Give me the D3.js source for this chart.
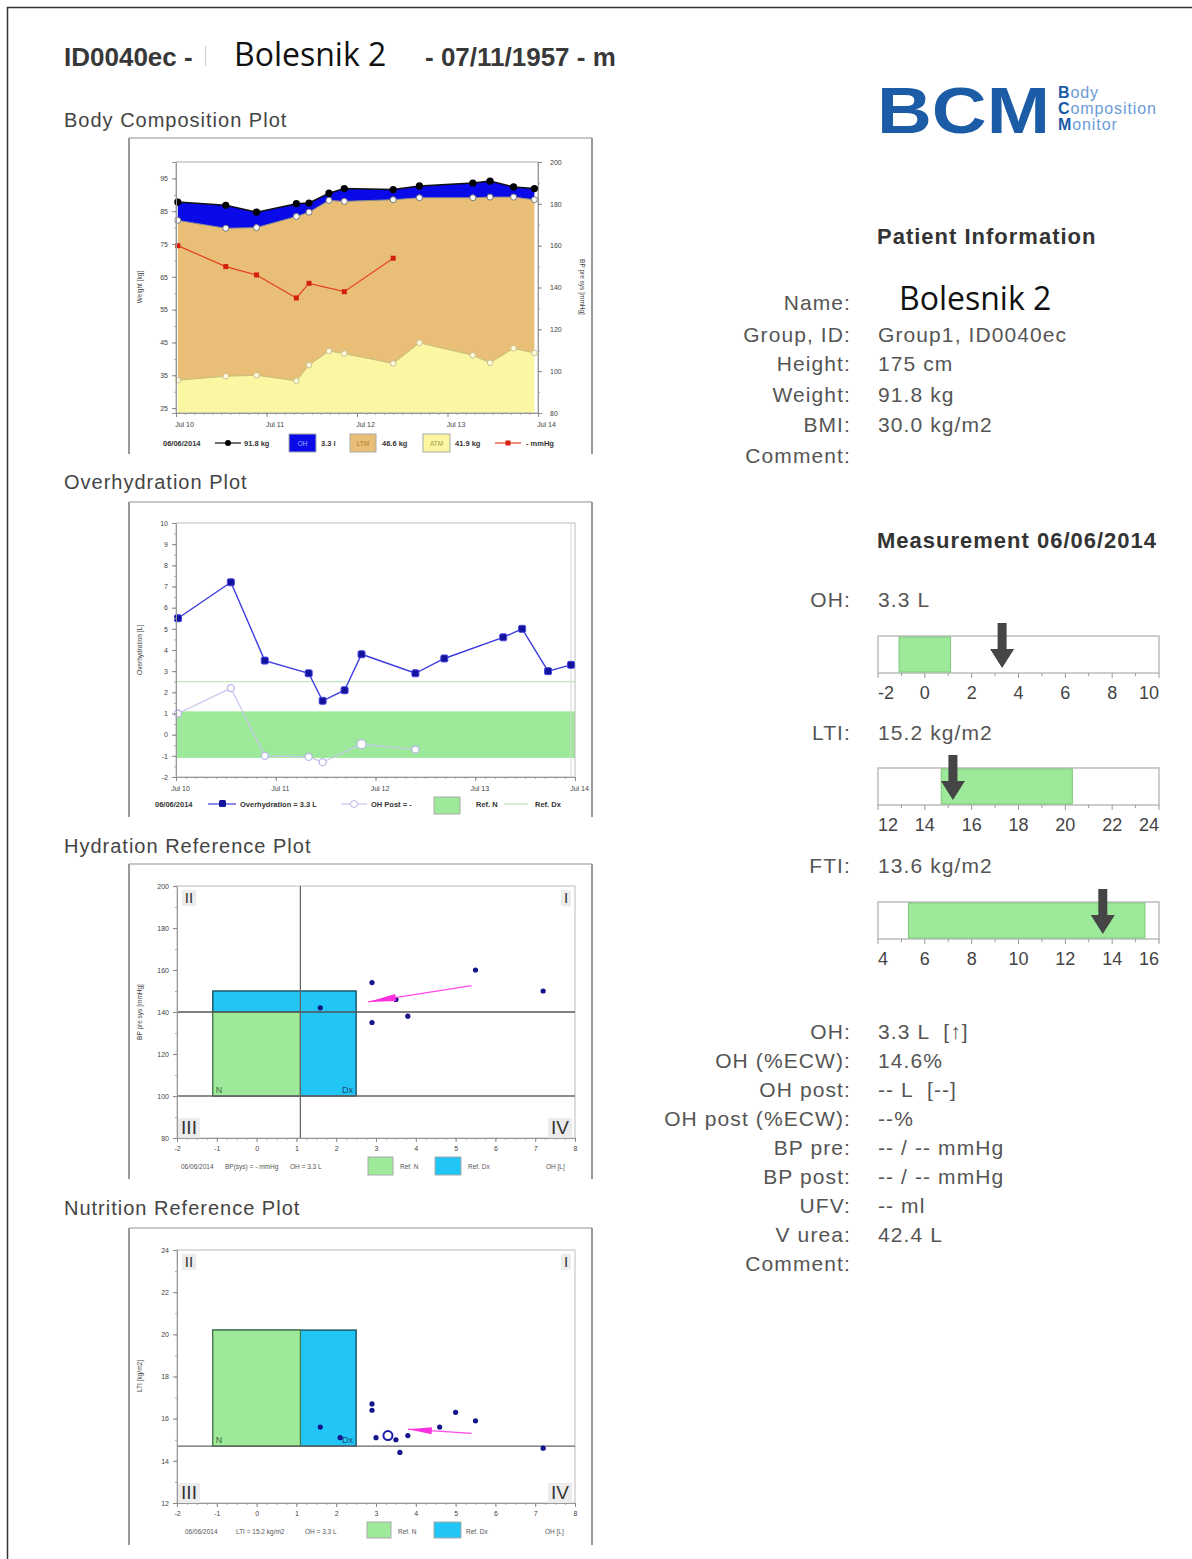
<!DOCTYPE html>
<html>
<head>
<meta charset="utf-8">
<script src="https://cdn.jsdelivr.net/npm/d3@7"></script>
<style>
  body { margin: 0; background: #fff; }
  svg { display: block; font-family: "Liberation Sans", Arial, sans-serif; }
  text { white-space: pre; }
</style>
</head>
<body>
<svg id="page" width="1192" height="1559"></svg>
<script>
// measurement days (x axis, day of July)
const dates = [10.02, 10.55, 10.89, 11.33, 11.47, 11.69, 11.86, 12.40, 12.69, 13.28, 13.47, 13.73, 13.96];
const weightKg = [87.8, 86.8, 84.7, 87.3, 87.5, 90.5, 91.9, 91.6, 92.7, 93.6, 94.2, 92.4, 91.9];
const ltmKg = [48.7, 45.1, 45.0, 50.1, 46.6, 45.9, 46.4, 49.9, 44.2, 48.0, 50.5, 46.1, 46.7];
const atmKg = [33.5, 34.7, 35.0, 33.3, 38.1, 42.4, 41.6, 38.6, 44.9, 41.1, 38.8, 43.2, 41.8];
const bpSys = [160, 150, 146, 135, 142, null, 138, 154, null, null, null, null, null];
const ohL = [5.5, 7.2, 3.5, 2.9, 1.6, 2.1, 3.8, 2.9, 3.6, 4.6, 5.0, 3.0, 3.3];
const ohPostL = [1.0, 2.2, -1.0, -1.05, -1.3, null, -0.45, -0.7, null, null, null, null, null];
const ltiKgM2 = [15.9, 14.6, 15.0, 16.7, 15.6, 15.1, 15.2, 16.4, 14.4, 15.6, 16.3, 15.1, 15.2];

// reference ranges
const ohRefN = [-1.1, 1.1];
const ohRefDx = 2.5;
const hrpRefN = [[-1.1, 1.1], [100, 140]];
const hrpRefDx = [[-1.1, 2.5], [100, 150]];
const nrpRefN = [[-1.1, 1.1], [14.7, 20.2]];
const nrpRefDx = [[-1.1, 2.5], [14.7, 20.2]];
const hrpTrend = [[5.4, 152.6], [2.8, 144.8]];
const nrpTrend = [[5.4, 15.3], [3.8, 15.5]];

// right side bars
const barTicksOH = [-2, 0, 2, 4, 6, 8, 10];
const barTicksLTI = [12, 14, 16, 18, 20, 22, 24];
const barTicksFTI = [4, 6, 8, 10, 12, 14, 16];
const barRefOH = [-1.1, 1.1], barRefLTI = [14.7, 20.3], barRefFTI = [5.3, 15.4];
const barValOH = 3.3, barValLTI = 15.2, barValFTI = 13.6;

const patientLabels = ['Name:', 'Group, ID:', 'Height:', 'Weight:', 'BMI:', 'Comment:'];
const patientValues = ['', 'Group1, ID0040ec', '175 cm', '91.8 kg', '30.0 kg/m2', ''];
const measLabels = ['OH:', 'OH (%ECW):', 'OH post:', 'OH post (%ECW):', 'BP pre:', 'BP post:', 'UFV:', 'V urea:', 'Comment:'];
const measValues = ['3.3 L  [\u2191]', '14.6%', '-- L  [--]', '--%', '-- / -- mmHg', '-- / -- mmHg', '-- ml', '42.4 L', ''];

const svg = d3.select('#page');
const rows = dates.map((d, i) => ({
  d, w: weightKg[i], atm: atmKg[i], lean: atmKg[i] + ltmKg[i],
  bp: bpSys[i], oh: ohL[i], post: ohPostL[i], lti: ltiKgM2[i]
}));
const plain = d => String(d);

// page border (top + left)
svg.append('path').attr('d', 'M7.5,1559 V7.5 H1192')
  .attr('fill', 'none').attr('stroke', '#333').attr('stroke-width', 1.5);

// ---------- header ----------
const hdr = svg.append('g').attr('fill', '#383838');
hdr.append('text').attr('x', 64).attr('y', 66).attr('font-size', 26).attr('font-weight', 'bold').text('ID0040ec -');
hdr.append('line').attr('x1', 205.5).attr('x2', 205.5).attr('y1', 46).attr('y2', 66).attr('stroke', '#ccc');
hdr.append('text').attr('x', 234).attr('y', 66).attr('font-family', '"Open Sans"').attr('font-size', 32)
  .attr('fill', '#111').text('Bolesnik 2');
hdr.append('text').attr('x', 425).attr('y', 66).attr('font-size', 26).attr('font-weight', 'bold').text('- 07/11/1957 - m');

const titles = [['Body Composition Plot', 127], ['Overhydration Plot', 489], ['Hydration Reference Plot', 853], ['Nutrition Reference Plot', 1215]];
svg.selectAll('text.ptitle').data(titles).join('text').attr('class', 'ptitle')
  .attr('x', 64).attr('y', d => d[1]).attr('font-size', 20).attr('letter-spacing', 1)
  .attr('fill', '#444').text(d => d[0]);

// ---------- helpers ----------
function frame(y0, y1) {
  const g = svg.append('g');
  g.append('line').attr('x1', 129).attr('x2', 592).attr('y1', y0).attr('y2', y0).attr('stroke', '#c8c8c8').attr('stroke-width', 2);
  g.append('line').attr('x1', 129).attr('x2', 129).attr('y1', y0).attr('y2', y1).attr('stroke', '#9a9a9a').attr('stroke-width', 2);
  g.append('line').attr('x1', 592).attr('x2', 592).attr('y1', y0).attr('y2', y1).attr('stroke', '#9a9a9a').attr('stroke-width', 2);
}

function addAxis(orient, scale, tx, ty, majors, minors, fmt, pad, dx) {
  const g = svg.append('g').attr('transform', `translate(${tx},${ty})`);
  g.append('g').call(orient(scale).tickValues(minors).tickSize(2).tickFormat(''))
    .call(a => a.select('.domain').remove())
    .call(a => a.selectAll('line').attr('stroke', '#aaa'));
  g.append('g').call(orient(scale).tickValues(majors).tickSize(4).tickPadding(pad).tickFormat(fmt))
    .call(a => a.select('.domain').attr('stroke', '#999'))
    .call(a => a.selectAll('.tick line').attr('stroke', '#888'))
    .call(a => a.selectAll('.tick text').attr('font-size', 7).attr('fill', '#444')
      .attr('font-family', '"Liberation Sans", Arial').attr('dx', dx || 0));
  return g;
}

function axisTitle(x, y, t, rot) {
  svg.append('text').attr('transform', `translate(${x},${y}) rotate(${rot})`)
    .attr('text-anchor', 'middle').attr('font-size', 6.5).attr('fill', '#444').text(t);
}

function legText(x, y, t, bold) {
  svg.append('text').attr('x', x).attr('y', y).attr('font-size', bold ? 7.5 : 6.5)
    .attr('font-weight', bold ? 'bold' : 'normal').attr('fill', bold ? '#333' : '#555').text(t);
}
function legLine(x1, x2, y, color, w) {
  svg.append('line').attr('x1', x1).attr('x2', x2).attr('y1', y).attr('y2', y)
    .attr('stroke', color).attr('stroke-width', w || 1.2);
}
function legBox(x, y, w, h, fill, label, lc) {
  svg.append('rect').attr('x', x).attr('y', y).attr('width', w).attr('height', h)
    .attr('fill', fill).attr('stroke', '#aaa').attr('stroke-width', 1);
  if (label) svg.append('text').attr('x', x + w / 2).attr('y', y + h / 2 + 2.5).attr('text-anchor', 'middle')
    .attr('font-size', 6.5).attr('fill', lc).text(label);
}

const seq = (a, b, s) => d3.range(Math.round((b - a) / s) + 1).map(i => +(a + i * s).toFixed(4));

// ---------- Body Composition Plot ----------
frame(138, 454);
const bcX = d3.scaleLinear().domain([10, 14]).range([176, 538]);
const bcY = d3.scaleLinear().domain([23.5, 100]).range([413, 162]);
const bcR = d3.scaleLinear().domain([80, 200]).range([413, 162]);
const gBc = svg.append('g');
gBc.append('path').datum(rows)
  .attr('d', d3.area().x(r => bcX(r.d)).y0(bcY(23.5)).y1(r => bcY(r.atm)))
  .attr('fill', '#fbf6a2');
gBc.append('path').datum(rows)
  .attr('d', d3.area().x(r => bcX(r.d)).y0(r => bcY(r.atm)).y1(r => bcY(r.lean)))
  .attr('fill', '#e9be76');
gBc.append('path').datum(rows)
  .attr('d', d3.area().x(r => bcX(r.d)).y0(r => bcY(r.lean)).y1(r => bcY(r.w)))
  .attr('fill', '#0a0ae8');
gBc.append('rect').attr('x', 176).attr('y', 162).attr('width', 362).attr('height', 251)
  .attr('fill', 'none').attr('stroke', '#aaa');
gBc.append('path').datum(rows).attr('d', d3.line().x(r => bcX(r.d)).y(r => bcY(r.atm)))
  .attr('fill', 'none').attr('stroke', '#c4bc78').attr('stroke-width', 1);
gBc.selectAll('circle.atm').data(rows).join('circle').attr('class', 'atm')
  .attr('cx', r => bcX(r.d)).attr('cy', r => bcY(r.atm)).attr('r', 2.8)
  .attr('fill', '#fdfbdc').attr('stroke', '#c8c294');
gBc.append('path').datum(rows).attr('d', d3.line().x(r => bcX(r.d)).y(r => bcY(r.lean)))
  .attr('fill', 'none').attr('stroke', '#8a8a8a').attr('stroke-width', 1);
gBc.selectAll('circle.lean').data(rows).join('circle').attr('class', 'lean')
  .attr('cx', r => bcX(r.d)).attr('cy', r => bcY(r.lean)).attr('r', 3)
  .attr('fill', '#fff').attr('stroke', '#777');
gBc.append('path').datum(rows).attr('d', d3.line().x(r => bcX(r.d)).y(r => bcY(r.w)))
  .attr('fill', 'none').attr('stroke', '#111').attr('stroke-width', 1.5);
gBc.selectAll('circle.w').data(rows).join('circle').attr('class', 'w')
  .attr('cx', r => bcX(r.d)).attr('cy', r => bcY(r.w)).attr('r', 3.6).attr('fill', '#000');
const bpRows = rows.filter(r => r.bp != null);
gBc.append('path').datum(bpRows).attr('d', d3.line().x(r => bcX(r.d)).y(r => bcR(r.bp)))
  .attr('fill', 'none').attr('stroke', '#e4401c').attr('stroke-width', 1.2);
gBc.selectAll('rect.bp').data(bpRows).join('rect').attr('class', 'bp')
  .attr('x', r => bcX(r.d) - 2.5).attr('y', r => bcR(r.bp) - 2.5).attr('width', 5).attr('height', 5)
  .attr('fill', '#d42010');

addAxis(d3.axisLeft, bcY, 176, 0, seq(25, 95, 10), seq(25, 95, 5), plain, 4);
addAxis(d3.axisRight, bcR, 538, 0, seq(80, 200, 20), seq(80, 200, 10), plain, 8);
addAxis(d3.axisBottom, bcX, 0, 413, seq(10, 14, 1), seq(10, 14, 0.1), d => 'Jul ' + d, 5, 8);
axisTitle(142, 287, 'Weight [kg]', -90);
axisTitle(580, 287, 'BP pre sys [mmHg]', 90);

// legend
legText(163, 446, '06/06/2014', true);
legLine(215, 241, 443, '#111');
svg.append('circle').attr('cx', 228).attr('cy', 443).attr('r', 3).attr('fill', '#000');
legText(244, 446, '91.8 kg', true);
legBox(289, 434, 27, 18, '#0a0ae8', 'OH', '#9ab0ff');
legText(321, 446, '3.3 l', true);
legBox(350, 434, 26, 18, '#e9be76', 'LTM', '#b07a30');
legText(382, 446, '46.6 kg', true);
legBox(423, 434, 27, 18, '#fbf6a2', 'ATM', '#a09a40');
legText(455, 446, '41.9 kg', true);
legLine(495, 521, 443, '#e4401c');
svg.append('rect').attr('x', 505.5).attr('y', 440.5).attr('width', 5).attr('height', 5).attr('fill', '#d42010');
legText(526, 446, '- mmHg', true);

// ---------- Overhydration Plot ----------
frame(502, 817);
const ohX = d3.scaleLinear().domain([10, 14]).range([176, 575]);
const ohY = d3.scaleLinear().domain([-2, 10]).range([777, 523]);
const gOh = svg.append('g');
gOh.append('rect').attr('x', 176).attr('y', ohY(ohRefN[1])).attr('width', 399)
  .attr('height', ohY(ohRefN[0]) - ohY(ohRefN[1])).attr('fill', '#9de99a');
gOh.append('line').attr('x1', 176).attr('x2', 575).attr('y1', ohY(ohRefDx)).attr('y2', ohY(ohRefDx))
  .attr('stroke', '#b4e2ac').attr('stroke-width', 1);
gOh.append('rect').attr('x', 176).attr('y', 523).attr('width', 399).attr('height', 254)
  .attr('fill', 'none').attr('stroke', '#bbb');
gOh.append('line').attr('x1', ohX(dates[dates.length - 1])).attr('x2', ohX(dates[dates.length - 1]))
  .attr('y1', 523).attr('y2', 777).attr('stroke', '#d4d4d4');
const postRows = rows.filter(r => r.post != null);
gOh.append('path').datum(postRows).attr('d', d3.line().x(r => ohX(r.d)).y(r => ohY(r.post)))
  .attr('fill', 'none').attr('stroke', '#c6c6ee').attr('stroke-width', 1.2);
gOh.selectAll('circle.post').data(postRows).join('circle').attr('class', 'post')
  .attr('cx', r => ohX(r.d)).attr('cy', r => ohY(r.post)).attr('r', (r, i) => i === 5 ? 4.5 : 3.5)
  .attr('fill', '#fff').attr('stroke', '#b8b8e8').attr('stroke-width', 1.3);
gOh.append('path').datum(rows).attr('d', d3.line().x(r => ohX(r.d)).y(r => ohY(r.oh)))
  .attr('fill', 'none').attr('stroke', '#3c3ce0').attr('stroke-width', 1.4);
gOh.selectAll('rect.oh').data(rows).join('rect').attr('class', 'oh')
  .attr('x', r => ohX(r.d) - 3.5).attr('y', r => ohY(r.oh) - 3.5).attr('width', 7).attr('height', 7).attr('rx', 1.5)
  .attr('fill', '#12129a').attr('stroke', '#4848e8');

addAxis(d3.axisLeft, ohY, 176, 0, seq(-2, 10, 1), seq(-2, 10, 0.5), plain, 4);
addAxis(d3.axisBottom, ohX, 0, 777, seq(10, 14, 1), seq(10, 14, 0.1), d => 'Jul ' + d, 5, 4);
axisTitle(142, 650, 'Overhydration [L]', -90);

legText(155, 807, '06/06/2014', true);
legLine(208, 236, 804, '#3c3ce0');
svg.append('rect').attr('x', 219).attr('y', 800).attr('width', 7).attr('height', 7).attr('rx', 1.5).attr('fill', '#12129a');
legText(240, 807, 'Overhydration = 3.3 L', true);
legLine(341, 367, 804, '#c6c6ee');
svg.append('circle').attr('cx', 354).attr('cy', 804).attr('r', 3.5).attr('fill', '#fff').attr('stroke', '#b8b8e8');
legText(371, 807, 'OH Post = -', true);
legBox(434, 797, 26, 17, '#9de99a');
legText(476, 807, 'Ref. N', true);
legLine(504, 528, 804, '#b4e2ac');
legText(535, 807, 'Ref. Dx', true);

// ---------- reference plots ----------
const refX = d3.scaleLinear().domain([-2, 8]).range([177, 575]);

function quad(x, y, t, fs) {
  const g = svg.append('g');
  const txt = g.append('text').attr('x', x).attr('y', y).attr('font-size', fs).attr('fill', '#333')
    .attr('text-anchor', 'middle').text(t);
  const b = txt.node().getBBox();
  g.insert('rect', 'text').attr('x', b.x - 3).attr('y', b.y + 1).attr('width', b.width + 6).attr('height', b.height - 1)
    .attr('fill', '#ececec');
}

function arrow(g, xs, ys, pts, len) {
  const x1 = xs(pts[0][0]), y1 = ys(pts[0][1]), x2 = xs(pts[1][0]), y2 = ys(pts[1][1]);
  g.append('line').attr('x1', x1).attr('y1', y1).attr('x2', x2).attr('y2', y2)
    .attr('stroke', '#ff48ea').attr('stroke-width', 1.2);
  const a = Math.atan2(y2 - y1, x2 - x1), c = Math.cos(a), s = Math.sin(a);
  const bx = x2 - len * c, by = y2 - len * s;
  g.append('path').attr('d', `M${x2},${y2} L${bx - 3.5 * s},${by + 3.5 * c} L${bx + 3.5 * s},${by - 3.5 * c} Z`)
    .attr('fill', '#ff30e0');
}

function refPlot(y0, y1, yScale, refN, refDx, yMajor, yMinor) {
  const g = svg.append('g');
  g.append('rect').attr('x', refX(refDx[0][0])).attr('y', yScale(refDx[1][1]))
    .attr('width', refX(refDx[0][1]) - refX(refDx[0][0])).attr('height', yScale(refDx[1][0]) - yScale(refDx[1][1]))
    .attr('fill', '#22c6f6').attr('stroke', '#1a5a68').attr('stroke-width', 1.5);
  g.append('rect').attr('x', refX(refN[0][0])).attr('y', yScale(refN[1][1]))
    .attr('width', refX(refN[0][1]) - refX(refN[0][0])).attr('height', yScale(refN[1][0]) - yScale(refN[1][1]))
    .attr('fill', '#9fe99a').attr('stroke', '#4a7a48').attr('stroke-width', 1.2);
  g.append('text').attr('x', refX(refN[0][0]) + 3).attr('y', yScale(refN[1][0]) - 3)
    .attr('font-size', 9).attr('fill', '#3a6a3a').text('N');
  g.append('text').attr('x', refX(refDx[0][1]) - 3).attr('y', yScale(refDx[1][0]) - 3).attr('text-anchor', 'end')
    .attr('font-size', 9).attr('fill', '#1a4a70').text('Dx');
  g.append('rect').attr('x', 177).attr('y', y0).attr('width', 398).attr('height', y1 - y0)
    .attr('fill', 'none').attr('stroke', '#bbb');
  g.append('line').attr('x1', 177).attr('x2', 575).attr('y1', yScale(refN[1][0]))
    .attr('y2', yScale(refN[1][0])).attr('stroke', '#666').attr('stroke-width', 1.3);
  addAxis(d3.axisLeft, yScale, 177, 0, yMajor, yMinor, plain, 4);
  addAxis(d3.axisBottom, refX, 0, y1, seq(-2, 8, 1), seq(-2, 8, 0.25), plain, 4);
  quad(189, y0 + 17, 'II', 15);
  quad(566, y0 + 17, 'I', 15);
  quad(189, y1 - 4, 'III', 19);
  quad(560, y1 - 4, 'IV', 19);
  return g;
}

// Hydration Reference Plot
frame(864, 1179);
const hrpY = d3.scaleLinear().domain([80, 200]).range([1138, 886]);
const gH = refPlot(886, 1138, hrpY, hrpRefN, hrpRefDx, seq(80, 200, 20), seq(80, 200, 10));
gH.append('line').attr('x1', refX(hrpRefN[0][1])).attr('x2', refX(hrpRefN[0][1]))
  .attr('y1', 886).attr('y2', 1138).attr('stroke', '#666').attr('stroke-width', 1.3);
gH.append('line').attr('x1', 177).attr('x2', 575).attr('y1', hrpY(hrpRefN[1][1])).attr('y2', hrpY(hrpRefN[1][1]))
  .attr('stroke', '#555').attr('stroke-width', 1.3);
gH.selectAll('circle.pt').data(bpRows).join('circle').attr('class', 'pt')
  .attr('cx', r => refX(r.oh)).attr('cy', r => hrpY(r.bp)).attr('r', 2.6).attr('fill', '#14148c');
arrow(gH, refX, hrpY, hrpTrend, 28);
axisTitle(142, 1012, 'BP pre sys [mmHg]', -90);

legText(181, 1169, '06/06/2014');
legText(225, 1169, 'BP(sys) = - mmHg');
legText(290, 1169, 'OH = 3.3 L');
legBox(368, 1157, 25, 18, '#9fe99a');
legText(400, 1169, 'Ref. N');
legBox(435, 1157, 26, 18, '#22c6f6');
legText(468, 1169, 'Ref. Dx');
legText(546, 1169, 'OH [L]');

// Nutrition Reference Plot
frame(1228, 1545);
const nrpY = d3.scaleLinear().domain([12, 24]).range([1503, 1250]);
const gN = refPlot(1250, 1503, nrpY, nrpRefN, nrpRefDx, seq(12, 24, 2), seq(12, 24, 1));
const last = rows.length - 1;
gN.selectAll('circle.pt').data(rows.slice(0, last)).join('circle').attr('class', 'pt')
  .attr('cx', r => refX(r.oh)).attr('cy', r => nrpY(r.lti)).attr('r', 2.6).attr('fill', '#14148c');
gN.append('circle').attr('cx', refX(rows[last].oh)).attr('cy', nrpY(rows[last].lti)).attr('r', 4.5)
  .attr('fill', '#fff').attr('stroke', '#1a1aa8').attr('stroke-width', 2);
arrow(gN, refX, nrpY, nrpTrend, 24);
axisTitle(142, 1376, 'LTI [kg/m2]', -90);

legText(185, 1534, '06/06/2014');
legText(236, 1534, 'LTI = 15.2 kg/m2');
legText(305, 1534, 'OH = 3.3 L');
legBox(367, 1522, 24, 16, '#9fe99a');
legText(398, 1534, 'Ref. N');
legBox(434, 1522, 27, 16, '#22c6f6');
legText(466, 1534, 'Ref. Dx');
legText(545, 1534, 'OH [L]');

// ---------- right side ----------
const logo = svg.append('g');
logo.append('text').attr('x', 877).attr('y', 133).attr('font-size', 64).attr('font-weight', 'bold')
  .attr('fill', '#1c5ba6').attr('textLength', 173).attr('lengthAdjust', 'spacingAndGlyphs').text('BCM');
[['B', 'ody', 98], ['C', 'omposition', 114], ['M', 'onitor', 130]].forEach(([a, b, y]) => {
  const t = logo.append('text').attr('x', 1058).attr('y', y).attr('font-size', 16).attr('letter-spacing', 0.9);
  t.append('tspan').attr('font-weight', 'bold').attr('fill', '#1c5ba6').text(a);
  t.append('tspan').attr('fill', '#6b9bd6').text(b);
});

const info = svg.append('g').attr('font-size', 21).attr('letter-spacing', 1.1).attr('fill', '#555');
info.append('text').attr('x', 877).attr('y', 244).attr('font-size', 22).attr('font-weight', 'bold')
  .attr('letter-spacing', 1).attr('fill', '#333').text('Patient Information');
const pY = [310, 342, 371, 402, 432, 463];
info.selectAll('text.pl').data(patientLabels).join('text').attr('class', 'pl')
  .attr('x', 851).attr('y', (d, i) => pY[i]).attr('text-anchor', 'end').text(d => d);
info.selectAll('text.pv').data(patientValues).join('text').attr('class', 'pv')
  .attr('x', 878).attr('y', (d, i) => pY[i]).text(d => d);
info.append('text').attr('x', 899).attr('y', 310).attr('font-family', '"Open Sans"').attr('font-size', 32)
  .attr('letter-spacing', 0).attr('fill', '#111').text('Bolesnik 2');

info.append('text').attr('x', 877).attr('y', 548).attr('font-size', 22).attr('font-weight', 'bold')
  .attr('letter-spacing', 1).attr('fill', '#333').text('Measurement 06/06/2014');

const barRows = [
  ['OH:', '3.3 L', 607, 636, barTicksOH, barRefOH, barValOH],
  ['LTI:', '15.2 kg/m2', 740, 768, barTicksLTI, barRefLTI, barValLTI],
  ['FTI:', '13.6 kg/m2', 873, 902, barTicksFTI, barRefFTI, barValFTI]
];
barRows.forEach(([lab, val, ty, y0, ticks, ref, v]) => {
  info.append('text').attr('x', 851).attr('y', ty).attr('text-anchor', 'end').text(lab);
  info.append('text').attr('x', 878).attr('y', ty).text(val);
  const bx = d3.scaleLinear().domain(d3.extent(ticks)).range([878, 1159]);
  const g = svg.append('g');
  g.append('rect').attr('x', 878).attr('y', y0).attr('width', 281).attr('height', 37)
    .attr('fill', '#fff').attr('stroke', '#bdbdbd').attr('stroke-width', 1.5);
  g.append('rect').attr('x', bx(ref[0])).attr('y', y0 + 1).attr('width', bx(ref[1]) - bx(ref[0])).attr('height', 35)
    .attr('fill', '#9de99a').attr('stroke', '#7ec47c').attr('stroke-width', 1);
  g.selectAll('line.tk').data(ticks.concat(d3.range(ticks[0] + 1, ticks[ticks.length - 1], 2))).join('line')
    .attr('class', 'tk').attr('x1', d => bx(d)).attr('x2', d => bx(d))
    .attr('y1', y0 + 37).attr('y2', (d, i) => y0 + (i < ticks.length ? 42 : 40)).attr('stroke', '#999');
  g.selectAll('text.tl').data(ticks).join('text').attr('class', 'tl')
    .attr('x', d => bx(d)).attr('y', y0 + 63).attr('font-size', 18).attr('fill', '#444')
    .attr('text-anchor', (d, i) => i === 0 ? 'start' : i === ticks.length - 1 ? 'end' : 'middle').text(d => d);
  const x = bx(v);
  g.append('path')
    .attr('d', `M${x - 4.5},${y0 - 13} H${x + 4.5} V${y0 + 13} H${x + 12} L${x},${y0 + 32} L${x - 12},${y0 + 13} H${x - 4.5} Z`)
    .attr('fill', '#454545');
});

const mY = d3.range(measLabels.length).map(i => 1039 + i * 29);
info.selectAll('text.ml').data(measLabels).join('text').attr('class', 'ml')
  .attr('x', 851).attr('y', (d, i) => mY[i]).attr('text-anchor', 'end').text(d => d);
info.selectAll('text.mv').data(measValues).join('text').attr('class', 'mv')
  .attr('x', 878).attr('y', (d, i) => mY[i]).text(d => d);
</script>
</body>
</html>
